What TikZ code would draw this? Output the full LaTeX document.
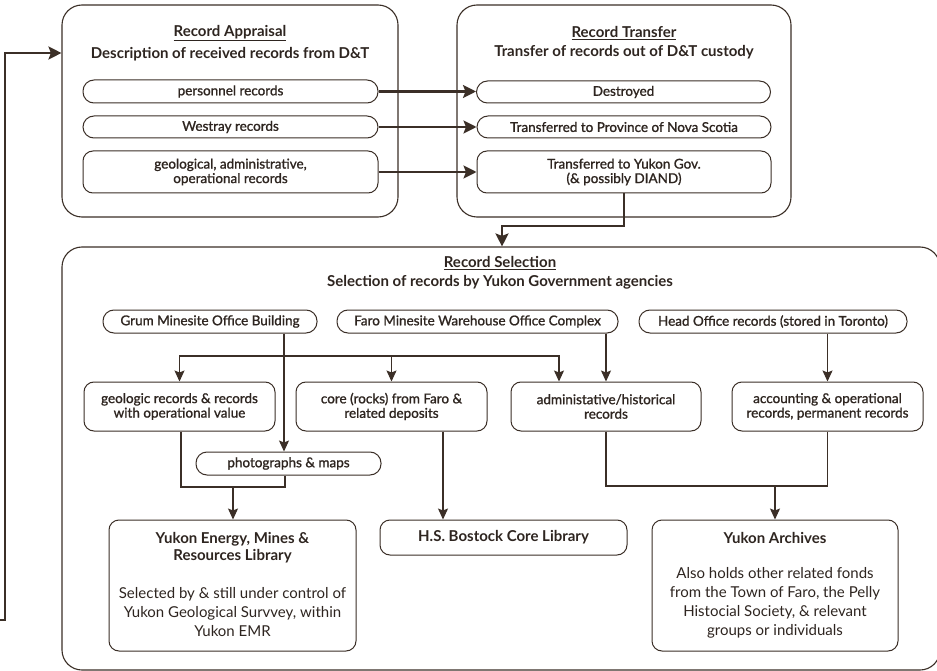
\documentclass[tikz,border=0pt]{standalone}
\usepackage{fontspec}
\setmainfont{Lato}
\newfontfamily\medfont{Lato}[FakeBold=1.2]
\usetikzlibrary{arrows.meta,calc}
\definecolor{lc}{HTML}{3B2F27}
\definecolor{tc}{HTML}{2E2520}
\begin{document}
\begin{tikzpicture}[x=1pt,y=-1pt,
  every node/.style={text=tc},
  outerbox/.style={draw=lc,line width=1.1pt,rounded corners=20pt,inner sep=0pt},
  lbl/.style={draw=lc,line width=1pt,rounded corners=10pt,align=center,inner sep=0pt,
     font=\medfont\fontsize{13.5}{14.5}\selectfont},
  pill/.style={lbl,rounded corners=11pt},
  ttl/.style={font=\bfseries\fontsize{15}{17}\selectfont,align=center,inner sep=0pt},
  body/.style={font=\fontsize{15}{19}\selectfont,align=center,inner sep=0pt},
  conn/.style={draw=lc,line width=1.1pt},
  arr/.style={conn,-{Stealth[length=11pt,width=10pt,inset=2pt]}},
  tarr/.style={draw=lc,line width=2.4pt,-{Stealth[length=13pt,width=13pt,inset=2.5pt]}},
]
\useasboundingbox[fill=white] (0,0) rectangle (937,671);
% outer boxes
\node[outerbox,minimum width=336pt,minimum height=212pt] (app) at (230,111) {};
\node[outerbox,minimum width=334pt,minimum height=212pt] (trf) at (624,111) {};
\node[outerbox,minimum width=878pt,minimum height=423pt] (sel) at (501,458.5) {};
% titles
\node[ttl] (appt) at (230,33) {\underline{Record Appraisal}};
\node[ttl] (apps) at (230,54) {Description of received records from D\&T};
\node[ttl] (trft) at (624,33) {\underline{Record Transfer}};
\node[ttl] (trfs) at (624,52) {Transfer of records out of D\&T custody};
\node[ttl] (selt) at (500,263) {\underline{Record Selection}};
\node[ttl] (sels) at (500,282) {Selection of records by Yukon Government agencies};
% appraisal inner
\node[pill,minimum width=295pt,minimum height=23pt] (pers) at (230.5,91.5) {personnel records};
\node[pill,minimum width=295pt,minimum height=22pt] (west) at (230.5,127) {Westray records};
\node[lbl,minimum width=295pt,minimum height=42pt] (geo) at (230.5,172) {geological, administrative,\\operational records};
% transfer inner
\node[pill,minimum width=294pt,minimum height=22pt] (dest) at (623.5,92) {Destroyed};
\node[pill,minimum width=294pt,minimum height=22pt] (nova) at (624,127) {Transferred to Province of Nova Scotia};
\node[lbl,minimum width=294pt,minimum height=42pt] (yuk) at (624,172) {Transferred to Yukon Gov.\\(\& possibly DIAND)};
% selection sources
\node[pill,minimum width=214pt,minimum height=23pt] (grum) at (210,321.5) {Grum Minesite Office Building};
\node[pill,minimum width=281pt,minimum height=23pt] (faro) at (477.5,321.5) {Faro Minesite Warehouse Office Complex};
\node[pill,minimum width=268pt,minimum height=23pt] (head) at (773,321.5) {Head Office records (stored in Toronto)};
% middle row
\node[lbl,minimum width=191pt,minimum height=49pt] (geol) at (179.5,406.5) {geologic records \& records\\with operational value};
\node[lbl,minimum width=191pt,minimum height=49pt] (core) at (391.5,406.5) {core (rocks) from Faro \&\\related deposits};
\node[lbl,minimum width=190pt,minimum height=49pt] (adm) at (606,406.5) {administative/historical\\records};
\node[lbl,minimum width=191pt,minimum height=49pt] (acc) at (827.5,406.5) {accounting \& operational\\records, permanent records};
\node[pill,minimum width=185pt,minimum height=23pt] (photo) at (288.5,463.5) {photographs \& maps};
% destinations
\node[lbl,minimum width=247pt,minimum height=131pt] (emr) at (232.5,585.5) {};
\node[ttl] (emrt) at (232.5,548) {Yukon Energy, Mines \&\\Resources Library};
\node[body] (emrb) at (232.5,612.5) {Selected by \& still under control of\\Yukon Geological Survvey, within\\Yukon EMR};
\node[lbl,minimum width=247pt,minimum height=35pt,font=\bfseries\fontsize{15}{17}\selectfont] (hsb) at (503.5,537.5) {H.S. Bostock Core Library};
\node[lbl,minimum width=246pt,minimum height=131pt] (arch) at (775,585.5) {};
\node[ttl] (archt) at (775,538) {Yukon Archives};
\node[body] (archb) at (775,602.5) {Also holds other related fonds\\from the Town of Faro, the Pelly\\Histocial Society, \& relevant\\groups or individuals};
% top connectors
\draw[tarr] (pers.east) -- (dest.west |- pers.east);
\draw[tarr] (west.east) -- (nova.west);
\draw[tarr] (geo.east) -- (yuk.west);
\coordinate (ybend) at (624,226);
\coordinate (sx) at (502,226);
\draw[tarr] (yuk.south) -- (ybend) -- (sx) -- (sel.north -| sx);
\coordinate (lstart) at (-10,620);
\coordinate (lcorner) at (5,620);
\coordinate (ltop) at (5,53);
\draw[tarr] (lstart) -- (lcorner) -- (ltop) -- (app.west |- ltop);
% selection connectors
\coordinate (gx) at (284,356);
\draw[arr] (grum.south -| gx) -- (photo.north -| gx);
\draw[arr] (gx) -| (geol.north);
\draw[arr] (gx) -| (core.north);
\coordinate (ax) at (559,356);
\draw[arr] (gx) -- (ax) -- (adm.north -| ax);
\draw[arr] (faro.south -| adm.north) -- (adm.north);
\draw[arr] (head.south -| acc.north) -- (acc.north);
\coordinate (gb) at (181,487);
\coordinate (pb) at (285,487);
\draw[conn] (geol.south -| gb) -- (gb) -- (pb) -- (photo.south -| pb);
\coordinate (eb) at (233,487);
\draw[arr] (eb) -- (emr.north -| eb);
\coordinate (cx) at (443,431);
\draw[arr] (core.south -| cx) -- (hsb.north -| cx);
\coordinate (ab) at (606,486);
\coordinate (cb) at (827.5,486);
\draw[conn] (adm.south) -- (ab) -- (cb) -- (acc.south);
\coordinate (rb) at (775,486);
\draw[arr] (rb) -- (arch.north);
\end{tikzpicture}
\end{document}
